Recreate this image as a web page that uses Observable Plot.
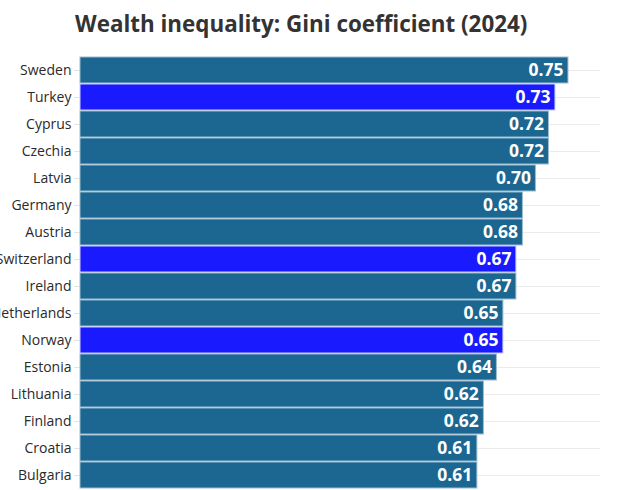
<!DOCTYPE html>
<html>
<head>
<meta charset="utf-8">
<script src="https://cdn.jsdelivr.net/npm/d3@7"></script>
<script src="https://cdn.jsdelivr.net/npm/@observablehq/plot@0.6"></script>
<style>
  body { margin: 0; background: white; font-family: "Open Sans", sans-serif; overflow: hidden; }
  #title { height: 54px; box-sizing: border-box; padding-left: 75px; padding-top: 9px; line-height: 30px;
           font-size: 22.4px; font-weight: bold; color: #333; font-family: "Open Sans", sans-serif; overflow: hidden; }
  #chart svg { display: block; overflow: hidden; }
</style>
</head>
<body>
<div id="title">Wealth inequality: Gini coefficient (2024)</div>
<div id="chart"></div>
<script>
const countries = ["Sweden","Turkey","Cyprus","Czechia","Latvia","Germany","Austria","Switzerland","Ireland","Netherlands","Norway","Estonia","Lithuania","Finland","Croatia","Bulgaria"];
const gini = [0.75,0.73,0.72,0.72,0.70,0.68,0.68,0.67,0.67,0.65,0.65,0.64,0.62,0.62,0.61,0.61];
const highlighted = ["Turkey","Switzerland","Norway"];

const data = countries.map((c, i) => ({country: c, value: gini[i], hl: highlighted.includes(c)}));

const chart = Plot.plot({
  width: 622,
  height: 436,
  marginLeft: 80,
  marginRight: 21.5,
  marginTop: 0,
  marginBottom: 0,
  style: {fontFamily: "Open Sans, sans-serif", fontSize: "14px", background: "white"},
  x: {domain: [0, 0.8], axis: null},
  y: {domain: countries, padding: 0.04, label: null},
  marks: [
    Plot.ruleY(data, {y: "country", x1: 0, x2: 0.8, stroke: "#ebebeb", strokeWidth: 1}),
    Plot.axisY({tickSize: 6, tickPadding: 3, stroke: "#e4e4e4", fill: "#2a2a2a", fontSize: 14, label: null}),
    Plot.barX(data, {
      y: "country", x: "value",
      fill: d => d.hl ? "#1a1aff" : "#1b6791",
      stroke: d => d.hl ? "#c9c9ff" : "#9cbcd0",
      strokeWidth: 1
    }),
    Plot.text(data, {
      y: "country", x: "value", text: d => d.value.toFixed(2),
      textAnchor: "end", dx: -5, fill: "white", fontWeight: "bold", fontSize: 17.5
    })
  ]
});
document.getElementById("chart").appendChild(chart);
</script>
</body>
</html>
